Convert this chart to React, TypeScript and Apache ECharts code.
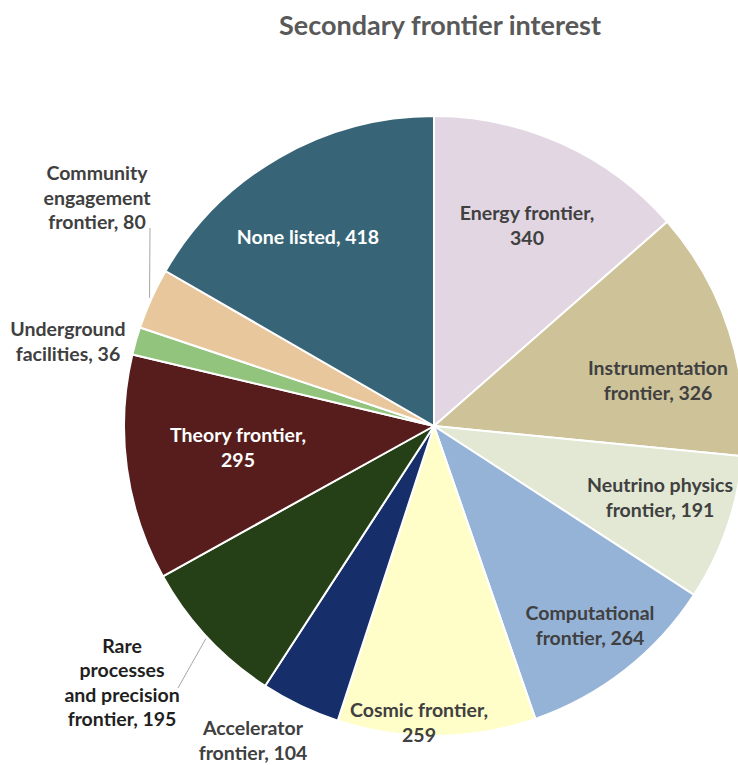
import React, { useEffect, useRef } from "react";
import * as echarts from "echarts";

// ---- data ----
const categories = [
  "Energy frontier",
  "Instrumentation frontier",
  "Neutrino physics frontier",
  "Computational frontier",
  "Cosmic frontier",
  "Accelerator frontier",
  "Rare processes and precision frontier",
  "Theory frontier",
  "Underground facilities",
  "Community engagement frontier",
  "None listed",
];
const values = [340, 326, 191, 264, 259, 104, 195, 295, 36, 80, 418];
const labelFormats = [
  "Energy frontier,\n{c}",
  "Instrumentation\nfrontier, {c}",
  "Neutrino physics\nfrontier, {c}",
  "Computational\nfrontier, {c}",
  "Cosmic frontier,\n{c}",
  "Accelerator\nfrontier, {c}",
  "Rare\nprocesses\nand precision\nfrontier, {c}",
  "Theory frontier,\n{c}",
  "Underground\nfacilities, {c}",
  "Community\nengagement\nfrontier, {c}",
  "None listed, {c}",
];
const TITLE = "Secondary frontier interest";

// ---- styles / layout ----
const colors = [
  "#E1D6E2",
  "#CEC299",
  "#E2E8D3",
  "#95B3D7",
  "#FFFDC8",
  "#162F6B",
  "#253F17",
  "#561D1C",
  "#93C47D",
  "#E9C79C",
  "#376577",
];
const labelColors = [
  "#404040", "#404040", "#404040", "#404040", "#404040", "#404040",
  "#1F1F1F", "#FFFFFF", "#404040", "#404040", "#FFFFFF",
];
const insideLabel = [true, true, true, true, true, false, false, true, false, false, true];
// label centres (px)
const labelCenters: [number, number][] = [
  [527, 225],
  [658, 380],
  [660, 497],
  [590, 625],
  [419, 722],
  [253, 740],
  [122, 682],
  [238, 447],
  [68, 341],
  [97, 197],
  [308, 236],
];
// leader line end points (px) for labels that have one
const leaderEnds: Record<number, [number, number]> = {
  6: [178, 688],
  9: [150, 228],
};
const CX = 434;
const CY = 426;
const R = 310;
const FONT = "Lato";

export default function App() {
  const ref = useRef<HTMLDivElement>(null);
  useEffect(() => {
    if (!ref.current) return;
    const chart = echarts.init(ref.current, undefined, { renderer: "svg" });
    const total = values.reduce((a, b) => a + b, 0);
    const midAngles: number[] = [];
    let acc = 0;
    values.forEach((v) => {
      midAngles.push(((acc + v / 2) / total) * 2 * Math.PI);
      acc += v;
    });

    const data = categories.map((name, i) => ({
      name,
      value: values[i],
      itemStyle: { color: colors[i] },
      label: {
        show: true,
        position: insideLabel[i] ? "inside" : "outside",
        formatter: labelFormats[i],
        color: labelColors[i],
      },
      labelLine: { show: leaderEnds[i] != null },
    }));

    chart.setOption({
      animation: false,
      title: {
        text: TITLE,
        left: 435,
        textAlign: "center",
        top: 6,
        textStyle: {
          fontFamily: FONT,
          fontSize: 27,
          fontWeight: "bold",
          color: "#595959",
        },
      },
      series: [
        {
          type: "pie",
          center: [CX, CY],
          radius: R,
          startAngle: 90,
          clockwise: true,
          avoidLabelOverlap: false,
          minShowLabelAngle: 0,
          itemStyle: { borderColor: "#FFFFFF", borderWidth: 2 },
          label: {
            fontFamily: FONT,
            fontSize: 19.5,
            fontWeight: "bold",
            lineHeight: 24.5,
            align: "center",
          },
          labelLine: { length: 5, length2: 5, lineStyle: { color: "#A6A6A6", width: 1 } },
          emphasis: { disabled: true },
          labelLayout: (params: any) => {
            const i = params.dataIndex;
            const [x, y] = labelCenters[i];
            const out: any = { x, y, align: "center", verticalAlign: "middle", hideOverlap: false };
            const end = leaderEnds[i];
            if (end) {
              const a = midAngles[i];
              const sx = CX + (R + 2) * Math.sin(a);
              const sy = CY - (R + 2) * Math.cos(a);
              out.labelLinePoints = [
                [sx, sy],
                [(sx + end[0]) / 2, (sy + end[1]) / 2],
                end,
              ];
            }
            return out;
          },
          data,
        },
      ],
    });
    return () => chart.dispose();
  }, []);
  return (
    <div
      ref={ref}
      style={{ position: "fixed", left: 0, top: 0, width: 738, height: 765, background: "#FFFFFF" }}
    />
  );
}
